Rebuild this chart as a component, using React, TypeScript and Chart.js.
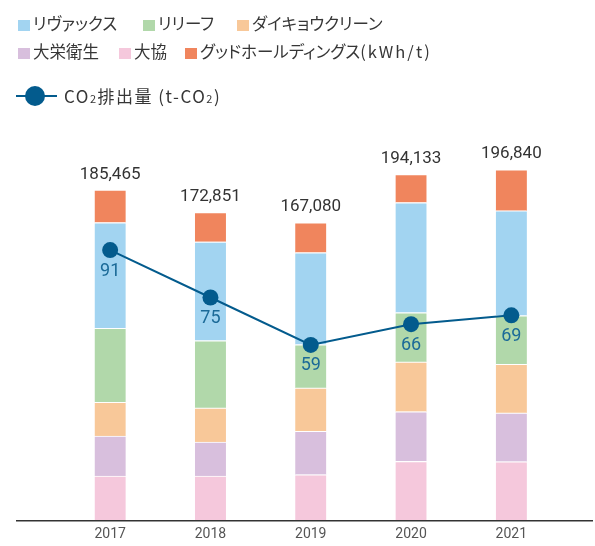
import React, { useEffect, useRef } from "react";
import { Chart, registerables } from "chart.js";

Chart.register(...registerables);

const years = ["2017", "2018", "2019", "2020", "2021"];
// stacked from bottom to top
const daikyo = [24730, 24730, 25460, 33000, 32770]; // 大協
const daiei = [22480, 19110, 24400, 27880, 27370]; // 大栄衛生
const daikyoClean = [18940, 19110, 24340, 27940, 27370]; // ダイキョウクリーン
const relief = [41600, 37830, 24340, 27710, 27320]; // リリーフ
const revacs = [59360, 55480, 51710, 61830, 59020]; // リヴァックス
const good = [18355, 16591, 16830, 15773, 22990]; // グッドホールディングス
const co2 = [91, 75, 59, 66, 69]; // CO2排出量 (t-CO2)

const C_REVACS = "#a2d4f1";
const C_RELIEF = "#b1d8aa";
const C_DKCLEAN = "#f8c899";
const C_DAIEI = "#d8bfdd";
const C_DAIKYO = "#f5c8dc";
const C_GOOD = "#f0855d";
const C_LINE = "#035b8d";

const totalsPlugin = {
  id: "totals",
  afterDatasetsDraw(chart: any) {
    const ctx = chart.ctx;
    const meta = chart.getDatasetMeta(5);
    ctx.save();
    ctx.font = "17px Roboto";
    ctx.fillStyle = "#333333";
    ctx.textAlign = "center";
    ctx.textBaseline = "middle";
    meta.data.forEach((el: any, i: number) => {
      const sum = [daikyo, daiei, daikyoClean, relief, revacs, good].reduce((a, arr) => a + arr[i], 0);
      ctx.fillText(sum.toLocaleString("en-US"), el.x, el.y - 15.5);
    });
    // point labels
    const lm = chart.getDatasetMeta(6);
    ctx.font = "18px Roboto";
    ctx.fillStyle = "#1b6a98";
    lm.data.forEach((el: any, i: number) => {
      ctx.fillText(String(co2[i]), el.x, el.y + 21);
    });
    // baseline axis
    const b = chart.chartArea.bottom;
    ctx.strokeStyle = "#333333";
    ctx.lineWidth = 1.5;
    ctx.beginPath();
    ctx.moveTo(16, b + 0.75);
    ctx.lineTo(593, b + 0.75);
    ctx.stroke();
    ctx.restore();
  },
};

function barDs(label: string, data: number[], color: string) {
  return {
    type: "bar" as const,
    label,
    data,
    backgroundColor: color,
    borderColor: "#ffffff",
    borderWidth: { top: 1.2, bottom: 0, left: 0, right: 0 },
    borderSkipped: false,
    barThickness: 31,
    stack: "s",
    yAxisID: "y",
    order: 1,
  };
}

const sq = (color: string) => (
  <span
    style={{
      display: "inline-block",
      width: 12,
      height: 11,
      background: color,
      marginRight: 3,
      verticalAlign: "-1px",
    }}
  />
);

export default function App() {
  const ref = useRef<HTMLCanvasElement>(null);
  useEffect(() => {
    document.body.style.margin = "0";
    const chart = new Chart(ref.current as HTMLCanvasElement, {
      type: "bar",
      data: {
        labels: years,
        datasets: [
          barDs("大協", daikyo, C_DAIKYO),
          barDs("大栄衛生", daiei, C_DAIEI),
          barDs("ダイキョウクリーン", daikyoClean, C_DKCLEAN),
          barDs("リリーフ", relief, C_RELIEF),
          barDs("リヴァックス", revacs, C_REVACS),
          barDs("グッドホールディングス(kWh/t)", good, C_GOOD),
          {
            type: "line" as const,
            label: "CO2排出量 (t-CO2)",
            data: co2,
            borderColor: C_LINE,
            backgroundColor: C_LINE,
            borderWidth: 2,
            pointRadius: 8,
            pointHoverRadius: 8,
            pointBackgroundColor: C_LINE,
            pointBorderWidth: 0,
            tension: 0,
            yAxisID: "y2",
            order: 0,
          } as any,
        ],
      },
      options: {
        animation: false,
        responsive: false,
        maintainAspectRatio: false,
        layout: { padding: { left: 60, right: 33.5, top: 75, bottom: 0 } },
        plugins: { legend: { display: false }, tooltip: { enabled: false } },
        scales: {
          x: {
            stacked: true,
            grid: { display: false, drawTicks: false },
            border: { display: false },
            ticks: { font: { family: "Roboto", size: 14 }, color: "#555555", padding: 6 },
            afterFit: (s: any) => {
              s.height = 26;
            },
          },
          y: { stacked: true, display: false, min: 0, max: 250000 },
          y2: { display: false, min: 0, max: 150, position: "right" },
        },
      },
      plugins: [totalsPlugin],
    } as any);
    return () => chart.destroy();
  }, []);

  const txt: React.CSSProperties = {
    position: "absolute",
    fontFamily: "'Noto Sans CJK JP', 'Noto Sans', sans-serif",
    fontSize: 16.5,
    fontFeatureSettings: "'palt'",
    color: "#363636",
    lineHeight: "22px",
    whiteSpace: "nowrap",
  };

  return (
    <div style={{ position: "relative", width: 595, height: 546 }}>
      <canvas ref={ref} width={595} height={546} style={{ display: "block" }} />
      <div style={{ ...txt, left: 18, top: 12 }}>{sq(C_REVACS)}リヴァックス</div>
      <div style={{ ...txt, left: 143, top: 12 }}>{sq(C_RELIEF)}リリーフ</div>
      <div style={{ ...txt, left: 237, top: 12 }}>{sq(C_DKCLEAN)}ダイキョウクリーン</div>
      <div style={{ ...txt, left: 18, top: 40 }}>{sq(C_DAIEI)}大栄衛生</div>
      <div style={{ ...txt, left: 119, top: 40 }}>{sq(C_DAIKYO)}大協</div>
      <div style={{ ...txt, left: 185, top: 40 }}>
        {sq(C_GOOD)}グッドホールディングス<span style={{ letterSpacing: 2 }}>(kWh/t)</span>
      </div>
      <div style={{ position: "absolute", left: 16, top: 95, width: 41, height: 2, background: C_LINE }} />
      <div
        style={{
          position: "absolute",
          left: 25,
          top: 86,
          width: 20,
          height: 20,
          borderRadius: 10,
          background: C_LINE,
        }}
      />
      <div style={{ ...txt, left: 64, top: 85, fontSize: 17, letterSpacing: 1.5 }}>
        CO<span style={{ fontSize: 11 }}>2</span>排出量 (t-CO<span style={{ fontSize: 11 }}>2</span>)
      </div>
    </div>
  );
}
